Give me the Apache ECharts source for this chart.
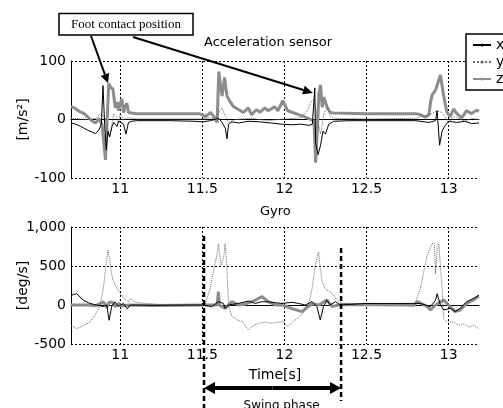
<!DOCTYPE html>
<html>
<head>
<meta charset="utf-8">
<script src="https://cdn.jsdelivr.net/npm/echarts@6/dist/echarts.min.js"></script>
<style>
html, body { margin: 0; padding: 0; background: #fff; }
#chart { width: 503px; height: 408px; }
</style>
</head>
<body>
<div id="chart"></div>
<script>
// time [s], value pairs
var accX = [[10.70,-6],[10.73,-8],[10.76,-12],[10.78,-15],[10.80,-18],[10.83,-22],[10.85,-24],[10.87,-18],[10.885,-8],[10.895,58],[10.905,-10],[10.915,-52],[10.925,-20],[10.935,-30],[10.95,-12],[10.96,-5],[10.98,-12],[10.99,-3],[11.00,-5],[11.02,-8],[11.035,-25],[11.05,-5],[11.07,-3],[11.10,-2],[11.30,-2],[11.45,-3],[11.50,-4],[11.55,-2],[11.60,2],[11.62,-5],[11.64,-15],[11.65,-33],[11.66,-8],[11.68,-4],[11.72,-6],[11.78,-3],[11.85,-4],[11.92,-6],[11.98,-8],[12.05,-9],[12.10,-8],[12.15,-10],[12.17,-8],[12.185,54],[12.19,-40],[12.205,-60],[12.22,-44],[12.235,-20],[12.25,-25],[12.27,-8],[12.30,-3],[12.40,-2],[12.60,-2],[12.80,-2],[12.88,-5],[12.92,-2],[12.93,15],[12.945,-44],[12.96,-20],[12.98,-10],[13.00,-3],[13.05,-5],[13.10,-3],[13.14,-7],[13.185,-6]];
var accY = [[10.70,2],[10.80,0],[10.85,2],[10.88,10],[10.90,5],[10.92,-10],[10.935,-30],[10.945,-15],[10.96,10],[10.975,5],[10.99,-5],[11.00,10],[11.02,0],[11.05,3],[11.10,1],[11.50,1],[11.55,3],[11.58,0],[11.60,12],[11.62,20],[11.64,5],[11.66,-5],[11.70,0],[11.80,2],[11.90,-2],[12.00,1],[12.10,3],[12.14,15],[12.16,30],[12.18,35],[12.20,0],[12.22,-25],[12.24,10],[12.26,20],[12.28,5],[12.30,2],[12.50,1],[12.80,2],[12.90,10],[12.93,15],[12.96,12],[12.98,5],[13.00,-5],[13.03,5],[13.06,2],[13.10,-3],[13.14,2],[13.185,0]];
var accZ = [[10.70,22],[10.72,20],[10.75,14],[10.78,10],[10.80,5],[10.83,-3],[10.85,-6],[10.87,2],[10.89,-10],[10.90,-40],[10.91,-69],[10.92,0],[10.93,62],[10.94,55],[10.955,52],[10.97,20],[10.98,30],[10.99,15],[11.00,28],[11.01,35],[11.02,12],[11.03,22],[11.04,28],[11.05,12],[11.07,11],[11.10,10],[11.30,10],[11.48,10],[11.50,8],[11.52,5],[11.55,12],[11.57,5],[11.59,-5],[11.60,82],[11.61,60],[11.62,40],[11.635,72],[11.65,40],[11.67,30],[11.69,22],[11.72,17],[11.75,12],[11.78,20],[11.80,8],[11.83,17],[11.85,12],[11.88,20],[11.90,15],[11.92,18],[11.94,22],[11.96,15],[11.99,32],[12.02,15],[12.05,12],[12.09,8],[12.12,5],[12.16,0],[12.18,-3],[12.19,-74],[12.20,-20],[12.21,45],[12.22,59],[12.23,21],[12.24,38],[12.26,21],[12.28,12],[12.30,11],[12.50,10],[12.80,10],[12.83,8],[12.86,4],[12.88,8],[12.89,30],[12.90,42],[12.92,50],[12.95,76],[12.97,40],[12.99,12],[13.01,5],[13.03,18],[13.05,10],[13.08,3],[13.11,15],[13.14,10],[13.17,16],[13.185,14]];

var gyroX = [[10.70,124],[10.735,145],[10.775,60],[10.816,20],[10.857,0],[10.897,-20],[10.918,0],[10.932,-196],[10.948,-20],[10.968,40],[10.989,-20],[11.019,20],[11.043,-50],[11.06,0],[11.2,-5],[11.5,0],[11.558,-20],[11.598,43],[11.629,20],[11.639,-43],[11.659,0],[11.72,20],[11.781,51],[11.822,20],[11.863,43],[11.903,40],[11.944,30],[11.985,20],[12.046,35],[12.086,20],[12.127,0],[12.168,43],[12.198,-20],[12.218,-192],[12.238,-20],[12.259,60],[12.279,0],[12.31,43],[12.34,0],[12.5,20],[12.79,20],[12.828,20],[12.889,-20],[12.92,60],[12.93,145],[12.95,0],[12.97,-64],[13.01,-43],[13.04,-85],[13.07,-43],[13.11,43],[13.153,85],[13.185,128]];
var gyroY = [[10.70,-261],[10.735,-303],[10.78,-260],[10.816,-218],[10.85,-120],[10.877,0],[10.897,209],[10.913,513],[10.924,701],[10.935,600],[10.942,470],[10.954,330],[10.97,250],[10.99,180],[11.02,90],[11.05,40],[11.06,80],[11.08,50],[11.10,30],[11.20,15],[11.26,0],[11.50,0],[11.517,10],[11.548,209],[11.558,337],[11.588,637],[11.598,786],[11.613,509],[11.629,600],[11.639,786],[11.649,509],[11.659,0],[11.68,-150],[11.70,-170],[11.72,-200],[11.745,-213],[11.765,-280],[11.78,-320],[11.80,-278],[11.84,-235],[11.88,-220],[11.92,-235],[11.96,-220],[11.995,-213],[12.02,-278],[12.05,-213],[12.08,-171],[12.11,-107],[12.147,0],[12.168,209],[12.188,513],[12.208,680],[12.218,470],[12.229,300],[12.249,209],[12.29,150],[12.32,64],[12.35,20],[12.50,20],[12.70,15],[12.787,-20],[12.828,209],[12.848,423],[12.869,637],[12.899,786],[12.913,790],[12.92,400],[12.93,700],[12.94,786],[12.96,209],[12.97,-175],[12.99,-218],[13.03,-218],[13.062,-261],[13.092,-240],[13.123,-283],[13.153,-261],[13.185,-303]];
var gyroZ = [[10.70,0],[10.80,0],[10.85,-10],[10.88,20],[10.897,40],[10.918,-30],[10.93,30],[10.95,40],[10.97,-20],[10.99,20],[11.01,-10],[11.05,0],[11.2,-5],[11.5,0],[11.59,0],[11.598,170],[11.603,0],[11.639,-43],[11.68,43],[11.72,0],[11.76,10],[11.82,60],[11.863,107],[11.90,43],[11.95,0],[11.99,0],[12.04,-43],[12.107,-85],[12.13,-43],[12.17,17],[12.21,0],[12.259,64],[12.29,-20],[12.34,5],[12.79,0],[12.81,43],[12.87,-20],[12.889,-64],[12.92,0],[12.97,64],[13.0,0],[13.04,-85],[13.07,-64],[13.11,20],[13.15,64],[13.185,115]];

var xTicks = [11, 11.5, 12, 12.5, 13];
var swing = [11.51, 12.345];

var font = 'DejaVu Sans';
var chart = echarts.init(document.getElementById('chart'));

function xAxisOf(idx, name) {
    return {
        type: 'value', gridIndex: idx, min: 10.7, max: 13.185,
        name: name, nameLocation: 'middle', nameGap: 24,
        nameTextStyle: { color: '#000', fontFamily: font, fontSize: 14 },
        axisLine: { lineStyle: { color: '#000', width: 1 } },
        axisTick: { show: false, customValues: xTicks },
        axisLabel: { customValues: xTicks, color: '#000', fontFamily: font, fontSize: 14, margin: 4 },
        splitLine: { show: true, lineStyle: { color: '#000', type: [2, 2], width: 1 } }
    };
}
function yAxisOf(idx, min, max, step, name) {
    return {
        type: 'value', gridIndex: idx, min: min, max: max, interval: step,
        name: name, nameLocation: 'middle', nameGap: 41, nameRotate: 90, nameMoveOverlap: false,
        nameTextStyle: { color: '#000', fontFamily: font, fontSize: 14 },
        axisLine: { show: true, lineStyle: { color: '#000', width: 1 } },
        axisTick: { show: false },
        axisLabel: { color: '#000', fontFamily: font, fontSize: 14, margin: 5 },
        splitLine: { show: true, lineStyle: { color: '#000', type: [2, 2], width: 1 } }
    };
}
function line(name, data, idx, style) {
    return {
        name: name, type: 'line', data: data, xAxisIndex: idx, yAxisIndex: idx,
        symbol: 'circle', showSymbol: false, animation: false,
        lineStyle: style, itemStyle: { color: style.color }, z: style.z
    };
}
var sx = { color: '#000', width: 1, z: 4 };
var sy = { color: '#666', width: 1, type: 'dotted', z: 3 };
var sz = { color: '#8c8c8c', width: 3, z: 2 };

chart.setOption({
    animation: false,
    title: [
        { text: 'Acceleration sensor', left: 204, top: 36, padding: 0,
          textStyle: { fontFamily: font, fontSize: 13, fontWeight: 'normal', color: '#000' } },
        { text: 'Gyro', left: 260, top: 205, padding: 0,
          textStyle: { fontFamily: font, fontSize: 13, fontWeight: 'normal', color: '#000' } }
    ],
    grid: [
        { left: 71, top: 61, width: 408, height: 117 },
        { left: 71, top: 227, width: 408, height: 117 }
    ],
    xAxis: [xAxisOf(0, ''), xAxisOf(1, 'Time[s]')],
    yAxis: [yAxisOf(0, -100, 100, 100, '[m/s²]'), yAxisOf(1, -500, 1000, 500, '[deg/s]')],
    legend: {
        data: ['x', 'y', 'z'], orient: 'vertical', left: 466, top: 34,
        padding: [4, 4, 4, 6], itemGap: 3, itemWidth: 18, itemHeight: 4,
        borderColor: '#000', borderWidth: 1.5, backgroundColor: '#fff',
        textStyle: { fontFamily: font, fontSize: 14, color: '#000' }
    },
    series: [
        line('z', accZ, 0, sz), line('y', accY, 0, sy), line('x', accX, 0, sx),
        line('z', gyroZ, 1, sz), line('y', gyroY, 1, sy), line('x', gyroX, 1, sx)
    ]
});

function arrow(x1, y1, x2, y2, w, hl, hw) {
    var a = Math.atan2(y2 - y1, x2 - x1);
    var bx = x2 - hl * Math.cos(a), by = y2 - hl * Math.sin(a);
    var nx = -Math.sin(a) * hw, ny = Math.cos(a) * hw;
    return [
        { type: 'line', shape: { x1: x1, y1: y1, x2: bx, y2: by }, style: { stroke: '#000', lineWidth: w }, z: 100 },
        { type: 'polygon', shape: { points: [[x2, y2], [bx + nx, by + ny], [bx - nx, by - ny]] }, style: { fill: '#000' }, z: 100 }
    ];
}

var x0 = chart.convertToPixel({ xAxisIndex: 1 }, swing[0]);
var x1 = chart.convertToPixel({ xAxisIndex: 1 }, swing[1]);
var g = [];
g.push({ type: 'rect', shape: { x: 59, y: 13.5, width: 134, height: 21.5 },
         style: { fill: '#fff', stroke: '#000', lineWidth: 1.5 }, z: 100 });
g.push({ type: 'text', x: 126, y: 25, z: 101,
         style: { text: 'Foot contact position', font: '13px "Liberation Serif"', fill: '#000', align: 'center', verticalAlign: 'middle' } });
g = g.concat(arrow(91, 36, 108, 83, 2, 9, 4.5));
g = g.concat(arrow(133, 37, 313, 93, 2, 10, 4.5));
g.push({ type: 'line', shape: { x1: x0, y1: 236, x2: x0, y2: 408 }, style: { stroke: '#000', lineWidth: 2.5, lineDash: [5, 3] }, z: 100 });
g.push({ type: 'line', shape: { x1: x1, y1: 248, x2: x1, y2: 401 }, style: { stroke: '#000', lineWidth: 2.5, lineDash: [5, 3] }, z: 100 });
g = g.concat(arrow((x0 + x1) / 2, 388, x0, 388, 4, 11, 6));
g = g.concat(arrow((x0 + x1) / 2, 388, x1, 388, 4, 11, 6));
g.push({ type: 'text', x: (x0 + x1) / 2 + 9, y: 400, z: 101,
         style: { text: 'Swing phase', font: '12px "DejaVu Sans"', fill: '#000', align: 'center', verticalAlign: 'top' } });
chart.setOption({ graphic: g });
</script>
</body>
</html>
